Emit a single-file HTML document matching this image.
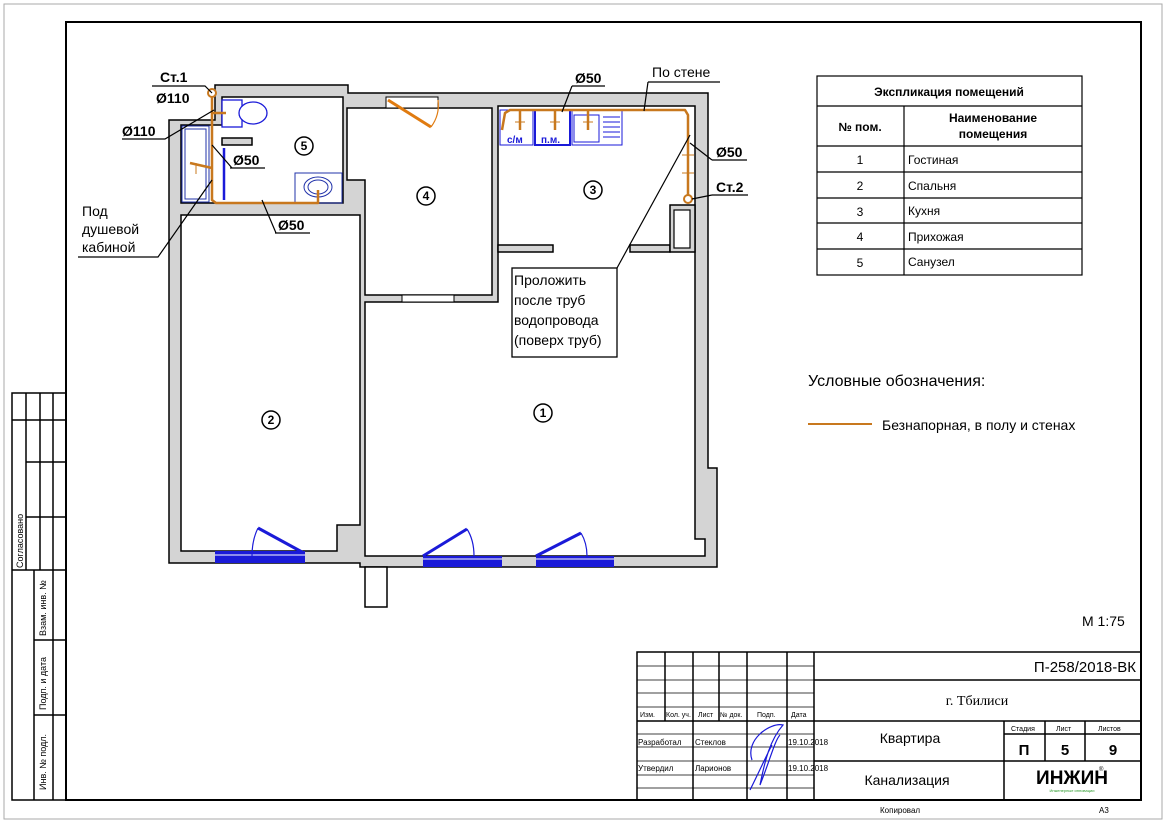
<!DOCTYPE html>
<html><head><meta charset="utf-8"><style>
html,body{margin:0;padding:0;background:#fff;}
svg{display:block;font-family:"Liberation Sans",Arial,sans-serif;}
</style></head><body>
<svg width="1166" height="824" viewBox="0 0 1166 824" xmlns="http://www.w3.org/2000/svg">
<rect x="0" y="0" width="1166" height="824" fill="#fff"/>
<rect x="4" y="4" width="1158" height="815" fill="none" stroke="#aaa" stroke-width="1"/>
<!-- main frame -->
<rect x="66" y="22" width="1075" height="778" fill="none" stroke="#000" stroke-width="2"/>
<!-- left strip -->
<g stroke="#000" stroke-width="1.5" fill="none">
<polyline points="66,393 12,393 12,800 66,800"/>
<line x1="26" y1="393" x2="26" y2="570"/><line x1="40" y1="393" x2="40" y2="570"/><line x1="53" y1="393" x2="53" y2="570"/>
<line x1="12" y1="420" x2="66" y2="420"/><line x1="26" y1="462" x2="66" y2="462"/><line x1="26" y1="517" x2="66" y2="517"/>
<line x1="12" y1="570" x2="66" y2="570"/>
<line x1="34" y1="570" x2="34" y2="800"/><line x1="53" y1="570" x2="53" y2="800"/>
<line x1="34" y1="640" x2="66" y2="640"/><line x1="34" y1="715" x2="66" y2="715"/>
</g>
<g font-size="9" fill="#000">
<text transform="translate(23,568) rotate(-90)">Согласовано</text>
<text transform="translate(46,636) rotate(-90)">Взам. инв. №</text>
<text transform="translate(46,710) rotate(-90)">Подп. и дата</text>
<text transform="translate(46,790) rotate(-90)">Инв. № подл.</text>
</g>

<!-- walls -->
<polygon points="215,85 348,85 348,93 708,93 708,468 717,468 717,567 360,567 360,563 169,563 169,120 215,120" fill="#d4d4d4" stroke="#000" stroke-width="1.5"/>
<rect x="365" y="567" width="22" height="40" fill="#fff" stroke="#000" stroke-width="1.5"/>
<g fill="#fff" stroke="#000" stroke-width="1.5">
<polygon points="222,97 343,97 343,203 181,203 181,125 222,125"/>
<polygon points="181,215 360,215 360,525 337,525 337,551 181,551"/>
<polygon points="347,108 492,108 492,295 365,295 365,180 347,180"/>
<polygon points="498,106 695,106 695,539 705,539 705,556 365,556 365,302 498,302"/>
</g>
<g fill="#d4d4d4" stroke="#000" stroke-width="1.5">
<rect x="222" y="138" width="30" height="7"/>
<rect x="498" y="245" width="55" height="7"/>
<rect x="630" y="245" width="40" height="7"/>
<rect x="670" y="205" width="25" height="47"/>
</g>
<rect x="674" y="210" width="16" height="38" fill="#fff" stroke="#000" stroke-width="1.2"/>
<!-- hall door opening -->
<rect x="386" y="97" width="52" height="11" fill="#fff" stroke="#000" stroke-width="1"/>
<line x1="388" y1="100" x2="431" y2="127" stroke="#e07b10" stroke-width="3"/>
<path d="M431,127 Q440,115 438,100" fill="none" stroke="#e07b10" stroke-width="1.2"/>
<!-- hall bottom opening -->
<rect x="402" y="295" width="52" height="7" fill="#fff" stroke="#000" stroke-width="1"/>
<!-- windows -->
<g fill="#1a1ad8">
<rect x="215" y="551" width="90" height="12"/>
<rect x="423" y="556" width="79" height="11"/>
<rect x="536" y="556" width="78" height="11"/>
</g>
<g stroke="#fff" stroke-width="1"><line x1="215" y1="555" x2="305" y2="555"/><line x1="423" y1="559" x2="502" y2="559"/><line x1="536" y1="559" x2="614" y2="559"/></g>
<g stroke="#1a1ad8" stroke-width="3" fill="none">
<line x1="258" y1="528" x2="302" y2="552"/><line x1="423" y1="556" x2="467" y2="529"/><line x1="536" y1="556" x2="581" y2="533"/>
</g>
<g stroke="#1a1ad8" stroke-width="1.2" fill="none">
<path d="M258,528 Q252,540 252,556"/><path d="M467,529 Q474,540 474,556"/><path d="M581,533 Q587,543 587,556"/>
</g>
<!-- bathroom fixtures -->
<g stroke="#2233aa" stroke-width="1" fill="none">
<rect x="182" y="126" width="27" height="76"/><rect x="185" y="129" width="21" height="70"/>
<line x1="224" y1="148" x2="224" y2="200" stroke-width="2.5" stroke="#1a1ad8"/>
<rect x="222" y="100" width="20" height="27" fill="#fff" stroke="#1a1ad8" stroke-width="1.3"/>
<ellipse cx="253" cy="113" rx="14" ry="11" fill="#fff" stroke="#1a1ad8" stroke-width="1.3"/>
<rect x="295" y="173" width="47" height="30"/>
<ellipse cx="318" cy="187" rx="14" ry="10"/><ellipse cx="318" cy="187" rx="10" ry="7"/>
</g>
<!-- kitchen fixtures -->
<g stroke="#1a1ad8" fill="none">
<rect x="500" y="110" width="33" height="35" stroke-width="1"/>
<rect x="535" y="110" width="35" height="35" stroke-width="2"/>
<rect x="572" y="110" width="50" height="35" stroke-width="1"/>
<rect x="574" y="115" width="25" height="27" stroke-width="1"/>
<line x1="603" y1="117" x2="620" y2="117"/><line x1="603" y1="122" x2="620" y2="122"/><line x1="603" y1="127" x2="620" y2="127"/><line x1="603" y1="132" x2="620" y2="132"/><line x1="603" y1="137" x2="620" y2="137"/>
</g>
<g fill="#1a1ad8" font-size="10" font-weight="bold"><text x="507" y="143">с/м</text><text x="541" y="143">п.м.</text></g>
<!-- orange pipes -->
<g stroke="#c8781e" stroke-width="2.5" fill="none" stroke-linejoin="round">
<polyline points="212,96 212,200 216,203 318,203 318,190"/>
<line x1="212" y1="113" x2="226" y2="113"/>
<line x1="212" y1="168" x2="190" y2="163"/>
<polyline points="502,130 505,113 510,110 685,110 688,115 688,196"/>
<line x1="520" y1="110" x2="520" y2="130"/><line x1="555" y1="110" x2="555" y2="130"/><line x1="588" y1="110" x2="588" y2="130"/>
</g>
<g stroke="#c8781e" stroke-width="1" fill="none">
<line x1="196" y1="163" x2="196" y2="174"/><line x1="682" y1="173" x2="694" y2="173"/><line x1="682" y1="155" x2="694" y2="155"/><line x1="515" y1="122" x2="525" y2="122"/><line x1="550" y1="122" x2="560" y2="122"/><line x1="583" y1="122" x2="593" y2="122"/>
</g>
<circle cx="212" cy="93" r="4" fill="#fff" stroke="#c8781e" stroke-width="2"/>
<circle cx="688" cy="199" r="4" fill="#fff" stroke="#c8781e" stroke-width="2"/>
<!-- room numbers -->
<g fill="none" stroke="#000" stroke-width="1.5">
<circle cx="304" cy="146" r="9"/><circle cx="426" cy="196" r="9"/><circle cx="593" cy="190" r="9"/><circle cx="271" cy="420" r="9"/><circle cx="543" cy="413" r="9"/>
</g>
<g font-size="12" font-weight="bold" text-anchor="middle">
<text x="304" y="150">5</text><text x="426" y="200">4</text><text x="593" y="194">3</text><text x="271" y="424">2</text><text x="543" y="417">1</text>
</g>
<!-- leaders -->
<g stroke="#000" stroke-width="1.2" fill="none">
<polyline points="152,86 205,86 212,93"/>
<polyline points="122,139 165,139 214,110"/>
<polyline points="230,168 265,168"/><line x1="212" y1="145" x2="232" y2="168"/>
<polyline points="78,257 158,257 212,180"/>
<polyline points="275,233 310,233"/><line x1="262" y1="200" x2="276" y2="233"/>
<polyline points="572,86 605,86"/><line x1="572" y1="86" x2="562" y2="112"/>
<polyline points="648,82 720,82"/><line x1="648" y1="82" x2="644" y2="111"/>
<polyline points="712,160 747,160"/><line x1="712" y1="160" x2="690" y2="143"/>
<polyline points="712,195 748,195"/><line x1="712" y1="195" x2="692" y2="199"/>
<line x1="617" y1="268" x2="690" y2="135"/>
</g>
<g font-size="14" font-weight="bold" fill="#000">
<text x="160" y="82">Ст.1</text><text x="156" y="103">Ø110</text>
<text x="122" y="136">Ø110</text>
<text x="233" y="165">Ø50</text>
<text x="278" y="230">Ø50</text>
<text x="575" y="83">Ø50</text>
<text x="716" y="157">Ø50</text>
<text x="716" y="192">Ст.2</text>
</g>
<g font-size="14" fill="#000">
<text x="82" y="216">Под</text><text x="82" y="234">душевой</text><text x="82" y="252">кабиной</text>
<text x="652" y="77">По стене</text>
</g>
<rect x="512" y="268" width="105" height="89" fill="#fff" stroke="#000" stroke-width="1.3"/>
<g font-size="14" fill="#000">
<text x="514" y="285">Проложить</text><text x="514" y="305">после труб</text><text x="514" y="325">водопровода</text><text x="514" y="345">(поверх труб)</text>
</g>
<!-- explication table -->
<g stroke="#000" stroke-width="1.2" fill="none">
<rect x="817" y="76" width="265" height="199"/>
<line x1="817" y1="106" x2="1082" y2="106"/><line x1="817" y1="146" x2="1082" y2="146"/>
<line x1="817" y1="172" x2="1082" y2="172"/><line x1="817" y1="198" x2="1082" y2="198"/>
<line x1="817" y1="223" x2="1082" y2="223"/><line x1="817" y1="249" x2="1082" y2="249"/>
<line x1="904" y1="106" x2="904" y2="275"/>
</g>
<g font-size="12" fill="#000">
<text x="949" y="96" text-anchor="middle" font-weight="bold">Экспликация помещений</text>
<text x="860" y="131" text-anchor="middle" font-weight="bold">№ пом.</text>
<text x="993" y="122" text-anchor="middle" font-weight="bold">Наименование</text>
<text x="993" y="138" text-anchor="middle" font-weight="bold">помещения</text>
<g text-anchor="middle"><text x="860" y="164">1</text><text x="860" y="190">2</text><text x="860" y="216">3</text><text x="860" y="241">4</text><text x="860" y="267">5</text></g>
<text x="908" y="164">Гостиная</text><text x="908" y="190">Спальня</text><text x="908" y="215">Кухня</text><text x="908" y="241">Прихожая</text><text x="908" y="266">Санузел</text>
</g>
<!-- legend -->
<text x="808" y="386" font-size="16" fill="#000">Условные обозначения:</text>
<line x1="808" y1="424" x2="872" y2="424" stroke="#c8781e" stroke-width="2"/>
<text x="882" y="430" font-size="14" fill="#000">Безнапорная, в полу и стенах</text>
<text x="1082" y="626" font-size="14" fill="#000">М 1:75</text>
<!-- title block -->
<g stroke="#000" stroke-width="1.5" fill="none">
<rect x="637" y="652" width="504" height="148"/>
<line x1="814" y1="652" x2="814" y2="800"/>
<line x1="665" y1="652" x2="665" y2="721"/><line x1="693" y1="652" x2="693" y2="800"/><line x1="719" y1="652" x2="719" y2="721"/>
<line x1="747" y1="652" x2="747" y2="800"/><line x1="787" y1="652" x2="787" y2="800"/>
<line x1="814" y1="680" x2="1141" y2="680"/><line x1="814" y1="721" x2="1141" y2="721"/><line x1="814" y1="761" x2="1141" y2="761"/>
<line x1="1004" y1="721" x2="1004" y2="800"/><line x1="1045" y1="721" x2="1045" y2="761"/><line x1="1085" y1="721" x2="1085" y2="761"/>
<line x1="1004" y1="734" x2="1141" y2="734"/>
</g>
<g stroke="#000" stroke-width="0.8">
<line x1="637" y1="666" x2="814" y2="666"/><line x1="637" y1="680" x2="814" y2="680"/><line x1="637" y1="693" x2="814" y2="693"/><line x1="637" y1="707" x2="814" y2="707"/>
<line x1="637" y1="721" x2="814" y2="721" stroke-width="1.5"/><line x1="637" y1="734" x2="814" y2="734"/><line x1="637" y1="747" x2="814" y2="747"/><line x1="637" y1="761" x2="814" y2="761"/><line x1="637" y1="775" x2="814" y2="775"/><line x1="637" y1="788" x2="814" y2="788"/>
</g>
<g font-size="7" fill="#000">
<text x="640" y="717">Изм.</text><text x="666" y="717">Кол. уч.</text><text x="698" y="717">Лист</text><text x="720" y="717">№ док.</text><text x="757" y="717">Подп.</text><text x="791" y="717">Дата</text>
<text x="1011" y="731">Стадия</text><text x="1056" y="731">Лист</text><text x="1098" y="731">Листов</text>
</g>
<g font-size="8" fill="#000">
<text x="638" y="745">Разработал</text><text x="695" y="745">Стеклов</text><text x="788" y="745">19.10.2018</text>
<text x="638" y="771">Утвердил</text><text x="695" y="771">Ларионов</text><text x="788" y="771">19.10.2018</text>
<text x="880" y="813">Копировал</text><text x="1099" y="813">А3</text>
</g>
<path d="M752,760 C745,740 770,722 783,725 C770,740 765,760 760,785 C770,760 775,740 780,735 M750,790 C760,770 768,752 772,745" fill="none" stroke="#1a1ad8" stroke-width="1.2"/>
<text x="1136" y="672" font-size="15" text-anchor="end" fill="#000">П-258/2018-ВК</text>
<text x="977" y="705" font-size="14" text-anchor="middle" font-family="Liberation Serif,serif" fill="#000">г. Тбилиси</text>
<text x="910" y="743" font-size="14" text-anchor="middle" fill="#000">Квартира</text>
<text x="907" y="785" font-size="14" text-anchor="middle" fill="#000">Канализация</text>
<text x="1024" y="755" font-size="15" text-anchor="middle" font-weight="bold">П</text>
<text x="1065" y="755" font-size="15" text-anchor="middle" font-weight="bold">5</text>
<text x="1113" y="755" font-size="15" text-anchor="middle" font-weight="bold">9</text>
<text x="1072" y="784" font-size="19" text-anchor="middle" font-weight="bold" fill="#000">ИНЖИН</text>
<text x="1099" y="771" font-size="6">®</text>
<text x="1072" y="792" font-size="4" text-anchor="middle" fill="#2a9a2a">Инженерные инновации</text>
</svg>
</body></html>
